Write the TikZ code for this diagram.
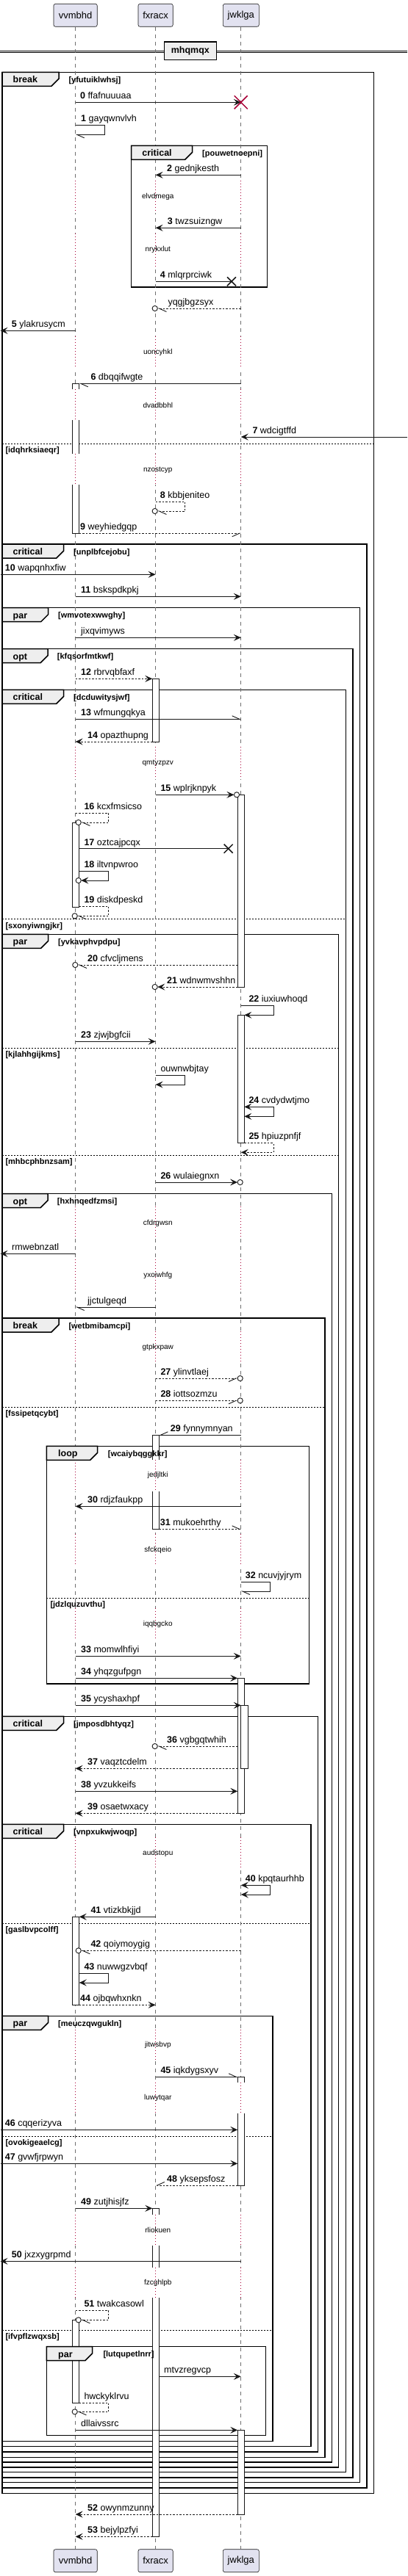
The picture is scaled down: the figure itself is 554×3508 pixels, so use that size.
\documentclass[tikz,border=0pt]{standalone}
\usepackage{fontspec}
\setmainfont{Liberation Sans}
\usetikzlibrary{arrows.meta,positioning}
\definecolor{ink}{HTML}{181818}
\definecolor{partfill}{HTML}{E2E2F0}
\definecolor{tabfill}{HTML}{EEEEEE}
\definecolor{crimson}{HTML}{A80036}
\definecolor{lifegray}{HTML}{707070}
\tikzstyle{partbox} = [draw=ink, line width=0.6pt, fill=partfill, rounded corners=2.5pt, minimum height=31pt, inner sep=0pt, font=\fontsize{13}{15}\selectfont]
\tikzstyle{lifeline} = [lifegray, line width=0.8pt, dash pattern=on 5pt off 5pt]
\tikzstyle{actbox} = [draw=ink, fill=white, line width=0.8pt]
\tikzstyle{delayline} = [crimson, line width=0.8pt, dash pattern=on 1pt off 3pt]
\tikzstyle{msg} = [ink, line width=0.9pt]
\tikzstyle{reply} = [ink, line width=0.9pt, dash pattern=on 2.5pt off 2pt]
\tikzstyle{tipfull} = [-{Stealth[length=10pt,width=9pt,inset=4pt]}]
\tikzstyle{tiphalf} = [-{Straight Barb[harpoon,length=10pt,width=9pt]}]
\tikzstyle{tiphalfsw} = [-{Straight Barb[harpoon,swap,length=10pt,width=9pt]}]
\tikzstyle{tipboth} = [{Stealth[length=10pt,width=9pt,inset=4pt]}-{Stealth[length=10pt,width=9pt,inset=4pt]}]
\tikzstyle{endo} = [draw=ink, fill=white, line width=0.9pt]
\tikzstyle{lostx} = [line width=1.5pt]
\tikzstyle{lbl} = [anchor=base west, inner sep=0pt, font=\fontsize{12.5}{15}\selectfont]
\tikzstyle{delaytxt} = [inner sep=0pt, font=\fontsize{10}{12}\selectfont]
\tikzstyle{fragbox} = [black, line width=1.5pt]
\tikzstyle{fragtab} = [draw=black, fill=tabfill, line width=1.5pt]
\tikzstyle{fraglbl} = [anchor=base west, inner sep=0pt, font=\bfseries\fontsize{12.5}{15}\selectfont]
\tikzstyle{condlbl} = [anchor=base west, inner sep=0pt, font=\bfseries\fontsize{11}{13}\selectfont]
\tikzstyle{elseline} = [black, line width=0.8pt, dash pattern=on 2pt off 2pt]
\tikzstyle{divbox} = [draw=black, line width=1.5pt, fill=tabfill, minimum width=71pt, minimum height=24.7pt, inner sep=0pt, font=\bfseries\fontsize{12.5}{15}\selectfont]

\begin{document}
\begin{tikzpicture}[x=1pt, y=-1pt]
    \useasboundingbox (0,0) rectangle (554,3508);

    % participants, top and bottom
    \node[partbox, minimum width=59.3pt] (pvv) at (102.6,20.8) {vvmbhd};
    \node[partbox, minimum width=47.3pt] (pfx) at (211.6,20.8) {fxracx};
    \node[partbox, minimum width=49pt] (pjw) at (327.8,20.8) {jwklga};
    \node[partbox, minimum width=59.3pt] (qvv) at (102.6,3487.2) {vvmbhd};
    \node[partbox, minimum width=47.3pt] (qfx) at (211.6,3487.2) {fxracx};
    \node[partbox, minimum width=49pt] (qjw) at (327.8,3487.2) {jwklga};

    \coordinate (vv) at (pvv.south);
    \coordinate (fx) at (pfx.south);
    \coordinate (jw) at (pjw.south);
    \coordinate (vvR) at (107.7,0);
    \coordinate (fxL) at (207.3,0);
    \coordinate (fxR) at (216.3,0);
    \coordinate (jwL) at (323.3,0);
    \coordinate (jwR) at (332.3,0);
    \coordinate (lft) at (0.5,0);
    \coordinate (rgt) at (554,0);

    % divider
    \draw[black, line width=0.9pt] (0,69) -- (554,69) (0,71.7) -- (554,71.7);
    \node[divbox] (div) at (258.8,69.35) {mhqmqx};

    % fragment frames
    \draw[fragbox] (3,98.3) rectangle (508.3,3395.3);      %% break yfutuiklwhsj
    \draw[elseline] (3,604) -- (508.3,604);
    \draw[fragbox] (178.7,198.3) rectangle (363.7,391);    %% critical pouwetnoepni
    \draw[fragbox] (3,741) rectangle (499,3388);           %% critical unplbfcejobu
    \draw[fragbox] (3,827.7) rectangle (489.7,3380.7);     %% par wmvotexwwghy
    \draw[fragbox] (3,883.7) rectangle (480,3374);         %% opt kfqsorfmtkwf
    \draw[fragbox] (3,939.3) rectangle (470.7,3366.7);     %% critical dcduwitysjwf
    \draw[elseline] (3,1251.7) -- (470.7,1251.7);
    \draw[fragbox] (3,1272.3) rectangle (460.7,3360);      %% par yvkavphvpdpu
    \draw[elseline] (3,1427.7) -- (460.7,1427.7);
    \draw[elseline] (3,1573.3) -- (460.7,1573.3);
    \draw[fragbox] (3,1625.7) rectangle (451.7,3353);      %% opt hxhnqedfzmsi
    \draw[fragbox] (3,1795) rectangle (442,3346.3);        %% break wetbmibamcpi
    \draw[elseline] (3,1916.3) -- (442,1916.3);
    \draw[fragbox] (63.3,1969.3) rectangle (420.3,2293);   %% loop wcaiybqggkkr
    \draw[elseline] (63.3,2176.3) -- (420.3,2176.3);
    \draw[fragbox] (3,2337.3) rectangle (432.7,3339);      %% critical jmposdbhtyqz
    \draw[fragbox] (3,2484.3) rectangle (423,3331.7);      %% critical vnpxukwjwoqp
    \draw[elseline] (3,2619.3) -- (423,2619.3);
    \draw[fragbox] (3,2745.3) rectangle (371,3324.3);      %% par meuczqwgukln
    \draw[elseline] (3,2909.3) -- (371,2909.3);
    \draw[elseline] (3,3173.3) -- (371,3173.3);
    \draw[fragbox] (63.3,3195.7) rectangle (361.7,3316.7); %% par lutqupetlnrr

    % lifelines
    \draw[lifeline] (pvv.south) -- (qvv.north);
    \draw[lifeline] (pfx.south) -- (qfx.north);
    \draw[lifeline] (pjw.south) -- (qjw.north);

    % activations
    \draw[actbox] (98.3,522.3) rectangle (107.7,726.3);
    \draw[actbox] (207.3,924.3) rectangle (216.3,1010);
    \draw[actbox] (323.3,1082.3) rectangle (332.3,1344.3);
    \draw[actbox] (98.3,1120) rectangle (107.7,1235);
    \draw[actbox] (323.3,1382.3) rectangle (332.3,1556.7);
    \draw[actbox] (207.3,1954.3) rectangle (216.3,2082.3);
    \draw[actbox] (323.3,2285.3) rectangle (332.3,2469.3);
    \draw[actbox] (327.7,2322.3) rectangle (337,2408.3);
    \draw[actbox] (98.3,2610.3) rectangle (107.7,2730.3);
    \draw[actbox] (323.3,2828.3) rectangle (332.3,2976);
    \draw[actbox] (207.3,3007.3) rectangle (216.3,3454.3);
    \draw[actbox] (98.3,3159.3) rectangle (107.7,3272);
    \draw[actbox] (323.3,3309.3) rectangle (332.3,3424);

    % delays: lifelines turn dotted
    \foreach \a/\b in {246/290, 318/363, 458/502, 530/572, 618/660, 1017/1061, 1643/1687, 1715/1759, 1813/1857, 1988/2031, 2089/2133, 2190/2234, 2502/2546, 2764/2807, 2836/2878, 3016/3058, 3088/3129} {
        \foreach \lx in {102.6,211.6,327.8} {
            \fill[white] (\lx-6,\a) rectangle (\lx+6,\b);
            \draw[delayline] (\lx,\a) -- (\lx,\b);
        }
    }

    % messages
    \draw[msg, tipfull] (vv |- 0,139.3) -- (jw |- 0,139.3);
    \draw[crimson, lostx] (318.7,130.3) -- (336.7,148.3) (318.7,148.3) -- (336.7,130.3); %% destroy
    \draw[msg, tiphalf] (vv |- 0,170.7) -- (142.7,170.7) -- (142.7,183.3) -- (vv |- 0,183.3);
    \draw[msg, tipfull] (jw |- 0,238.3) -- (fx |- 0,238.3);
    \draw[msg, tipfull] (jw |- 0,310.3) -- (fx |- 0,310.3);
    \draw[msg] (fx |- 0,383.3) -- (315,383.3);
    \draw[ink, lostx] (309,377.3) -- (321,389.3) (309,389.3) -- (321,377.3);
    \draw[reply, tiphalf] (jw |- 0,420) -- (214.3,420);
    \draw[endo] (210.7,420) circle (3.6pt);
    \draw[msg, tipfull] (vv |- 0,450.3) -- (lft |- 0,450.3);
    \draw[msg, tiphalf] (jw |- 0,522.3) -- (vvR |- 0,522.3);
    \draw[msg, tipfull] (rgt |- 0,595) -- (jw |- 0,595);
    \draw[reply, tiphalf] (fx |- 0,683.3) -- (251.7,683.3) -- (251.7,696) -- (214.3,696);
    \draw[endo] (210.7,696) circle (3.6pt);
    \draw[reply, tiphalfsw] (vvR |- 0,726.3) -- (jw |- 0,726.3);
    \draw[msg, tipfull] (lft |- 0,782.3) -- (fx |- 0,782.3);
    \draw[msg, tipfull] (vv |- 0,812.3) -- (jw |- 0,812.3);
    \draw[msg, tipfull] (vv |- 0,868.3) -- (jw |- 0,868.3);
    \draw[reply, tipfull] (vv |- 0,924.3) -- (fxL |- 0,924.3);
    \draw[msg, tiphalf] (vv |- 0,979.3) -- (jw |- 0,979.3);
    \draw[reply, tipfull] (fxL |- 0,1010) -- (vv |- 0,1010);
    \draw[msg, tipfull] (fx |- 0,1082.3) -- (318.4,1082.3);
    \draw[endo] (322,1082.3) circle (3.6pt);
    \draw[reply, tiphalf] (vv |- 0,1107.3) -- (147.7,1107.3) -- (147.7,1120) -- (110.3,1120);
    \draw[endo] (106.7,1120) circle (3.6pt);
    \draw[msg] (vvR |- 0,1155.7) -- (310.7,1155.7);
    \draw[ink, lostx] (304.7,1149.7) -- (316.7,1161.7) (304.7,1161.7) -- (316.7,1149.7);
    \draw[msg, tipfull] (vvR |- 0,1186.3) -- (147.7,1186.3) -- (147.7,1199) -- (110.3,1199);
    \draw[endo] (106.7,1199) circle (3.6pt);
    \draw[reply, tiphalf] (vvR |- 0,1234) -- (147.7,1234) -- (147.7,1247.3) -- (105.3,1247.3);
    \draw[endo] (101.7,1247.3) circle (3.6pt);
    \draw[reply, tiphalf] (jwL |- 0,1314) -- (105.9,1314);
    \draw[endo] (102.3,1314) circle (3.6pt);
    \draw[reply, tipfull] (jwL |- 0,1344) -- (214.3,1344);
    \draw[endo] (210.7,1344) circle (3.6pt);
    \draw[msg, tipfull] (jw |- 0,1369.7) -- (372,1369.7) -- (372,1382.3) -- (jwR |- 0,1382.3);
    \draw[msg, tipfull] (vv |- 0,1418.3) -- (fx |- 0,1418.3);
    \draw[msg, tipfull] (fx |- 0,1464.3) -- (251.7,1464.3) -- (251.7,1477) -- (fx |- 0,1477);
    \draw[msg, tipboth] (jwR |- 0,1507.3) -- (372,1507.3) -- (372,1520.3) -- (jwR |- 0,1520.3);
    \draw[reply, tipfull] (jwR |- 0,1556.7) -- (372,1556.7) -- (372,1569.3) -- (jw |- 0,1569.3);
    \draw[msg, tipfull] (fx |- 0,1610) -- (323.1,1610);
    \draw[endo] (326.7,1610) circle (3.6pt);
    \draw[msg, tipfull] (vv |- 0,1707.3) -- (lft |- 0,1707.3);
    \draw[msg, tiphalf] (fx |- 0,1780) -- (vv |- 0,1780);
    \draw[reply, tiphalfsw] (fx |- 0,1877) -- (323.1,1877);
    \draw[endo] (326.7,1877) circle (3.6pt);
    \draw[reply, tiphalfsw] (fx |- 0,1907.3) -- (323.1,1907.3);
    \draw[endo] (326.7,1907.3) circle (3.6pt);
    \draw[msg, tiphalfsw] (jw |- 0,1954.3) -- (fxR |- 0,1954.3);
    \draw[msg, tipfull] (jw |- 0,2051.3) -- (vv |- 0,2051.3);
    \draw[reply, tiphalf] (fxR |- 0,2082.3) -- (jw |- 0,2082.3);
    \draw[msg, tiphalf] (jw |- 0,2154.3) -- (367.7,2154.3) -- (367.7,2167) -- (jw |- 0,2167);
    \draw[msg, tipfull] (vv |- 0,2255.3) -- (jw |- 0,2255.3);
    \draw[msg, tipfull] (vv |- 0,2285.3) -- (jwL |- 0,2285.3);
    \draw[msg, tipfull] (vv |- 0,2322.3) -- (jw |- 0,2322.3);
    \draw[reply, tiphalf] (jwL |- 0,2378) -- (214.3,2378);
    \draw[endo] (210.7,2378) circle (3.6pt);
    \draw[reply, tipfull] (jwL |- 0,2408.3) -- (vv |- 0,2408.3);
    \draw[msg, tipfull] (vv |- 0,2439.3) -- (jwL |- 0,2439.3);
    \draw[reply, tipfull] (jwL |- 0,2469.3) -- (vv |- 0,2469.3);
    \draw[msg, tipboth] (jw |- 0,2567.3) -- (367.7,2567.3) -- (367.7,2580) -- (jw |- 0,2580);
    \draw[msg, tipfull] (fx |- 0,2610.3) -- (vvR |- 0,2610.3);
    \draw[reply, tiphalf] (jw |- 0,2656.3) -- (110.3,2656.3);
    \draw[endo] (106.7,2656.3) circle (3.6pt);
    \draw[msg, tipfull] (vvR |- 0,2687.3) -- (147.7,2687.3) -- (147.7,2700) -- (vvR |- 0,2700);
    \draw[reply, tipfull] (vvR |- 0,2730.3) -- (fx |- 0,2730.3);
    \draw[msg, tiphalf] (fx |- 0,2828.3) -- (jwL |- 0,2828.3);
    \draw[msg, tipfull] (lft |- 0,2900.3) -- (jwL |- 0,2900.3);
    \draw[msg, tipfull] (lft |- 0,2946.3) -- (jwL |- 0,2946.3);
    \draw[reply, tiphalfsw] (jwL |- 0,2976) -- (fx |- 0,2976);
    \draw[msg, tipfull] (vv |- 0,3007.3) -- (fxL |- 0,3007.3);
    \draw[msg, tipfull] (jw |- 0,3079.3) -- (lft |- 0,3079.3);
    \draw[reply, tiphalf] (vv |- 0,3146.3) -- (147.7,3146.3) -- (147.7,3159.3) -- (110.3,3159.3);
    \draw[endo] (106.7,3159.3) circle (3.6pt);
    \draw[msg, tipfull] (fxR |- 0,3236.3) -- (jw |- 0,3236.3);
    \draw[reply, tiphalf] (vvR |- 0,3272) -- (147.7,3272) -- (147.7,3284.3) -- (105.3,3284.3);
    \draw[endo] (101.7,3284.3) circle (3.6pt);
    \draw[msg, tipfull] (vv |- 0,3309.3) -- (jwL |- 0,3309.3);
    \draw[reply, tipfull] (jwL |- 0,3424) -- (vv |- 0,3424);
    \draw[reply, tipfull] (fxL |- 0,3454.3) -- (vv |- 0,3454.3);

    % fragment tabs and guards
    \filldraw[fragtab] (3,98.3) -- (80,98.3) -- (80,107.3) -- (70,117.3) -- (3,117.3) -- cycle;
    \node[fraglbl] (k1) at (17.5,112.8) {break};
    \node[condlbl] (c1) at (93.3,112.3) {[yfutuiklwhsj]};
    \node[condlbl] (e1) at (7.3,616.3) {[idqhrksiaeqr]};
    \filldraw[fragtab] (178.7,198.3) -- (261.7,198.3) -- (261.7,207.3) -- (251.7,217.3) -- (178.7,217.3) -- cycle;
    \node[fraglbl] (k2) at (193.2,212.8) {critical};
    \node[condlbl] (c2) at (275,212.3) {[pouwetnoepni]};
    \filldraw[fragtab] (3,741) -- (86.7,741) -- (86.7,750) -- (76.7,760) -- (3,760) -- cycle;
    \node[fraglbl] (k3) at (17.5,755.5) {critical};
    \node[condlbl] (c3) at (100,755) {[unplbfcejobu]};
    \filldraw[fragtab] (3,827.7) -- (65.7,827.7) -- (65.7,836.7) -- (55.7,846.7) -- (3,846.7) -- cycle;
    \node[fraglbl] (k4) at (17.5,842.2) {par};
    \node[condlbl] (c4) at (79,841.7) {[wmvotexwwghy]};
    \filldraw[fragtab] (3,883.7) -- (65,883.7) -- (65,892.7) -- (55,902.7) -- (3,902.7) -- cycle;
    \node[fraglbl] (k5) at (17.5,898.2) {opt};
    \node[condlbl] (c5) at (77.7,897.7) {[kfqsorfmtkwf]};
    \filldraw[fragtab] (3,939.3) -- (86.7,939.3) -- (86.7,948.3) -- (76.7,958.3) -- (3,958.3) -- cycle;
    \node[fraglbl] (k6) at (17.5,953.8) {critical};
    \node[condlbl] (c6) at (100,953.3) {[dcduwitysjwf]};
    \node[condlbl] (e6) at (7.3,1264) {[sxonyiwngjkr]};
    \filldraw[fragtab] (3,1272.3) -- (65.7,1272.3) -- (65.7,1281.3) -- (55.7,1291.3) -- (3,1291.3) -- cycle;
    \node[fraglbl] (k7) at (17.5,1286.8) {par};
    \node[condlbl] (c7) at (79,1286.3) {[yvkavphvpdpu]};
    \node[condlbl] (e7a) at (7.3,1439.7) {[kjlahhgijkms]};
    \node[condlbl] (e7b) at (7.3,1585.3) {[mhbcphbnzsam]};
    \filldraw[fragtab] (3,1625.7) -- (65,1625.7) -- (65,1634.7) -- (55,1644.7) -- (3,1644.7) -- cycle;
    \node[fraglbl] (k8) at (17.5,1640.2) {opt};
    \node[condlbl] (c8) at (77.7,1639.7) {[hxhnqedfzmsi]};
    \filldraw[fragtab] (3,1795) -- (80,1795) -- (80,1804) -- (70,1814) -- (3,1814) -- cycle;
    \node[fraglbl] (k9) at (17.5,1809.5) {break};
    \node[condlbl] (c9) at (93.3,1809) {[wetbmibamcpi]};
    \node[condlbl] (e9) at (7.3,1928.3) {[fssipetqcybt]};
    \filldraw[fragtab] (63.3,1969.3) -- (132.7,1969.3) -- (132.7,1978.3) -- (122.7,1988.3) -- (63.3,1988.3) -- cycle;
    \node[fraglbl] (k10) at (79,1983.8) {loop};
    \node[condlbl] (c10) at (146.7,1983.3) {[wcaiybqggkkr]};
    \node[condlbl] (e10) at (68.3,2188.3) {[jdzlquzuvthu]};
    \filldraw[fragtab] (3,2337.3) -- (86.7,2337.3) -- (86.7,2346.3) -- (76.7,2356.3) -- (3,2356.3) -- cycle;
    \node[fraglbl] (k11) at (17.5,2351.8) {critical};
    \node[condlbl] (c11) at (100,2351.3) {[jmposdbhtyqz]};
    \filldraw[fragtab] (3,2484.3) -- (86.7,2484.3) -- (86.7,2493.3) -- (76.7,2503.3) -- (3,2503.3) -- cycle;
    \node[fraglbl] (k12) at (17.5,2498.8) {critical};
    \node[condlbl] (c12) at (100,2498.3) {[vnpxukwjwoqp]};
    \node[condlbl] (e12) at (7.3,2631.3) {[gaslbvpcolff]};
    \filldraw[fragtab] (3,2745.3) -- (65.7,2745.3) -- (65.7,2754.3) -- (55.7,2764.3) -- (3,2764.3) -- cycle;
    \node[fraglbl] (k13) at (17.5,2759.8) {par};
    \node[condlbl] (c13) at (79,2759.3) {[meuczqwgukln]};
    \node[condlbl] (e13a) at (7.3,2921.3) {[ovokigeaelcg]};
    \node[condlbl] (e13b) at (7.3,3185.3) {[ifvpflzwqxsb]};
    \filldraw[fragtab] (63.3,3195.7) -- (125.7,3195.7) -- (125.7,3204.7) -- (115.7,3214.7) -- (63.3,3214.7) -- cycle;
    \node[fraglbl] (k14) at (79,3210.2) {par};
    \node[condlbl] (c14) at (140.3,3209.7) {[lutqupetlnrr]};

    % delay texts
    \node[delaytxt] (d1) at (214.8,268.3) {elvdmega};
    \node[delaytxt] (d2) at (214.8,340.3) {nrykxlut};
    \node[delaytxt] (d3) at (214.8,480.3) {uoncyhkl};
    \node[delaytxt] (d4) at (214.8,552.3) {dvadbbhl};
    \node[delaytxt] (d5) at (214.8,640.3) {nzostcyp};
    \node[delaytxt] (d6) at (214.8,1039.3) {qmtyzpzv};
    \node[delaytxt] (d7) at (214.8,1665.7) {cfdrgwsn};
    \node[delaytxt] (d8) at (214.8,1737.3) {yxoiwhfg};
    \node[delaytxt] (d9) at (214.8,1835.3) {gtpkxpaw};
    \node[delaytxt] (d10) at (214.8,2009.3) {jedjltki};
    \node[delaytxt] (d11) at (214.8,2111) {sfckqeio};
    \node[delaytxt] (d12) at (214.8,2212.3) {iqqbgcko};
    \node[delaytxt] (d13) at (214.8,2524) {audstopu};
    \node[delaytxt] (d14) at (214.8,2785.3) {jitwsbvp};
    \node[delaytxt] (d15) at (214.8,2857.3) {luwytqar};
    \node[delaytxt] (d16) at (214.8,3037) {rliokuen};
    \node[delaytxt] (d17) at (214.8,3109.3) {fzcghlpb};

    % message labels
    \node[lbl] (l0) at (109,134.8) {\textbf{0} ffafnuuuaa};
    \node[lbl] (l1) at (110,165.7) {\textbf{1} gayqwnvlvh};
    \node[lbl] (l2) at (227,233.8) {\textbf{2} gednjkesth};
    \node[lbl] (l3) at (227.7,305.8) {\textbf{3} twzsuizngw};
    \node[lbl] (l4) at (217.7,378.8) {\textbf{4} mlqrprciwk};
    \node[lbl] (lyq) at (228.3,415.5) {yqgjbgzsyx};
    \node[lbl] (l5) at (15.7,445.8) {\textbf{5} ylakrusycm};
    \node[lbl] (l6) at (123.3,517.8) {\textbf{6} dbqqifwgte};
    \node[lbl] (l7) at (343.3,590.5) {\textbf{7} wdcigtffd};
    \node[lbl] (l8) at (217.7,678.3) {\textbf{8} kbbjeniteo};
    \node[lbl] (l9) at (109,721.8) {\textbf{9} weyhiedgqp};
    \node[lbl] (l10) at (6.7,777.8) {\textbf{10} wapqnhxfiw};
    \node[lbl] (l11) at (110,807.8) {\textbf{11} bskspdkpkj};
    \node[lbl] (ljx) at (110,863.8) {jixqvimyws};
    \node[lbl] (l12) at (110,919.8) {\textbf{12} rbrvqbfaxf};
    \node[lbl] (l13) at (110,974.8) {\textbf{13} wfmungqkya};
    \node[lbl] (l14) at (119,1005.5) {\textbf{14} opazthupng};
    \node[lbl] (l15) at (218.3,1077.8) {\textbf{15} wplrjknpyk};
    \node[lbl] (l16) at (114.3,1102.3) {\textbf{16} kcxfmsicso};
    \node[lbl] (l17) at (114.3,1151.2) {\textbf{17} oztcajpcqx};
    \node[lbl] (l18) at (114.3,1181.3) {\textbf{18} iltvnpwroo};
    \node[lbl] (l19) at (114.3,1229) {\textbf{19} diskdpeskd};
    \node[lbl] (l20) at (119,1309.5) {\textbf{20} cfvcljmens};
    \node[lbl] (l21) at (227,1339.5) {\textbf{21} wdnwmvshhn};
    \node[lbl] (l22) at (338.3,1364.7) {\textbf{22} iuxiuwhoqd};
    \node[lbl] (l23) at (110,1413.8) {\textbf{23} zjwjbgfcii};
    \node[lbl] (lou) at (218.3,1459.3) {ouwnwbjtay};
    \node[lbl] (l24) at (338.3,1502.3) {\textbf{24} cvdydwtjmo};
    \node[lbl] (l25) at (338.3,1551.7) {\textbf{25} hpiuzpnfjf};
    \node[lbl] (l26) at (218.3,1605.5) {\textbf{26} wulaiegnxn};
    \node[lbl] (lrm) at (16,1702.8) {rmwebnzatl};
    \node[lbl] (ljj) at (119,1775.5) {jjctulgeqd};
    \node[lbl] (l27) at (218.3,1872.5) {\textbf{27} ylinvtlaej};
    \node[lbl] (l28) at (218.3,1902.8) {\textbf{28} iottsozmzu};
    \node[lbl] (l29) at (231.7,1949.8) {\textbf{29} fynnymnyan};
    \node[lbl] (l30) at (119,2046.8) {\textbf{30} rdjzfaukpp};
    \node[lbl] (l31) at (217.7,2077.8) {\textbf{31} mukoehrthy};
    \node[lbl] (l32) at (333.7,2149.3) {\textbf{32} ncuvjyjrym};
    \node[lbl] (l33) at (110,2250.8) {\textbf{33} momwlhfiyi};
    \node[lbl] (l34) at (110,2280.8) {\textbf{34} yhqzgufpgn};
    \node[lbl] (l35) at (110,2317.8) {\textbf{35} ycyshaxhpf};
    \node[lbl] (l36) at (227,2373.5) {\textbf{36} vgbgqtwhih};
    \node[lbl] (l37) at (119,2403.8) {\textbf{37} vaqztcdelm};
    \node[lbl] (l38) at (110,2434.8) {\textbf{38} yvzukkeifs};
    \node[lbl] (l39) at (119,2464.8) {\textbf{39} osaetwxacy};
    \node[lbl] (l40) at (333.7,2562.3) {\textbf{40} kpqtaurhhb};
    \node[lbl] (l41) at (123.3,2605.8) {\textbf{41} vtizkbkjjd};
    \node[lbl] (l42) at (123.3,2651.8) {\textbf{42} qoiymoygig};
    \node[lbl] (l43) at (114.3,2682.3) {\textbf{43} nuwwgzvbqf};
    \node[lbl] (l44) at (109,2725.8) {\textbf{44} ojbqwhxnkn};
    \node[lbl] (l45) at (218.3,2823.8) {\textbf{45} iqkdygsxyv};
    \node[lbl] (l46) at (6.7,2895.8) {\textbf{46} cqqerizyva};
    \node[lbl] (l47) at (6.7,2941.8) {\textbf{47} gvwfjrpwyn};
    \node[lbl] (l48) at (227,2971.5) {\textbf{48} yksepsfosz};
    \node[lbl] (l49) at (110,3002.8) {\textbf{49} zutjhisjfz};
    \node[lbl] (l50) at (15.7,3074.8) {\textbf{50} jxzxygrpmd};
    \node[lbl] (l51) at (114.3,3141.3) {\textbf{51} twakcasowl};
    \node[lbl] (lmt) at (223,3231.8) {mtvzregvcp};
    \node[lbl] (lhw) at (114.3,3267) {hwckyklrvu};
    \node[lbl] (ldl) at (110,3304.8) {dllaivssrc};
    \node[lbl] (l52) at (119,3419.5) {\textbf{52} owynmzunny};
    \node[lbl] (l53) at (119,3449.8) {\textbf{53} bejylpzfyi};
\end{tikzpicture}
\end{document}
